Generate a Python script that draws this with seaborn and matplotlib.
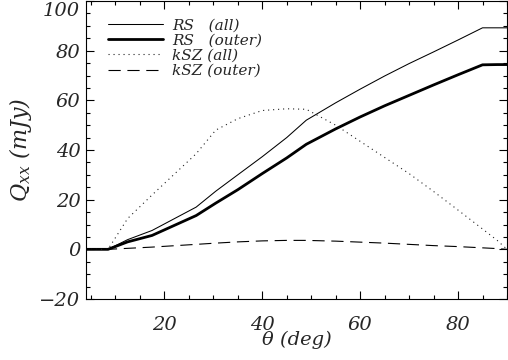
import matplotlib
matplotlib.use("Agg")
import matplotlib.pyplot as plt
import matplotlib.transforms as mtransforms
from matplotlib.ticker import MultipleLocator, FuncFormatter
import seaborn as sns

# viewing angle (deg) and Q_xx (mJy)
theta = [4, 8.5, 12.5, 17.5, 26.5, 30.5, 35, 40, 45, 49, 55, 60, 65, 70, 75, 80, 85, 88, 90]
rs_all = [0, 0, 3.9, 7.6, 17.0, 23.4, 30.0, 37.3, 45.0, 52.0, 59.0, 64.5, 69.8, 74.8, 79.5, 84.3, 89.2, 89.2, 89.2]
rs_outer = [0, 0, 3.0, 5.6, 13.6, 18.6, 24.0, 30.5, 36.8, 42.3, 48.5, 53.3, 57.8, 62.0, 66.2, 70.3, 74.3, 74.4, 74.4]
ksz_all = [0, 0, 12.4, 21.9, 38.5, 48.0, 52.6, 55.9, 56.6, 56.4, 50.0, 43.5, 37.0, 30.5, 23.3, 15.8, 8.2, 3.6, 0]
ksz_outer = [0, 0, 0.4, 0.9, 2.0, 2.5, 3.0, 3.4, 3.6, 3.6, 3.3, 2.9, 2.5, 2.0, 1.5, 1.1, 0.6, 0.3, 0]

labels = ["RS   (all)", "RS   (outer)", "kSZ (all)", "kSZ (outer)"]

sns.set_style("ticks")
plt.rcParams["font.family"] = ["DejaVu Serif"]
plt.rcParams["font.style"] = "italic"
plt.rcParams["mathtext.fontset"] = "custom"
plt.rcParams["mathtext.it"] = "DejaVu Serif:italic"
plt.rcParams["mathtext.rm"] = "DejaVu Serif:italic"

fig = plt.figure(figsize=(5.08, 3.6), dpi=100)
ax = fig.add_axes([86 / 508, 1 - 299 / 360, 421 / 508, 298 / 360])

sns.lineplot(x=theta, y=rs_all, ax=ax, color="black", lw=0.75, label=labels[0])
sns.lineplot(x=theta, y=rs_outer, ax=ax, color="black", lw=2.0, label=labels[1])
sns.lineplot(x=theta, y=ksz_all, ax=ax, color="#222222", lw=0.8, label=labels[2],
             linestyle=(0, (1, 3.5)))
sns.lineplot(x=theta, y=ksz_outer, ax=ax, color="black", lw=0.8, label=labels[3],
             linestyle=(0, (11, 6)))

ax.set_xlim(4, 90)
ax.set_ylim(-20, 100)
ax.xaxis.set_major_locator(MultipleLocator(20))
ax.xaxis.set_minor_locator(MultipleLocator(5))
ax.yaxis.set_major_locator(MultipleLocator(20))
ax.yaxis.set_minor_locator(MultipleLocator(5))
ax.yaxis.set_major_formatter(FuncFormatter(lambda v, p: "" if v >= 100 else f"{v:.0f}".replace("-", "\u2212")))

ax.tick_params(which="both", direction="in", top=True, right=True, width=0.8, color="black")
ax.tick_params(which="major", length=5.5)
ax.tick_params(which="minor", length=3)
ax.tick_params(axis="x", which="major", pad=12, labelsize=14)
ax.tick_params(axis="y", which="major", pad=4, labelsize=14)

# top tick label sits inside the frame in the original
off = mtransforms.offset_copy(ax.get_yaxis_transform(), fig=fig, x=-6, y=-1, units="dots")
ax.text(0, 100, "100", transform=off, ha="right", va="top", fontsize=14)

for s in ax.spines.values():
    s.set_linewidth(0.8)
    s.set_color("black")

ax.set_xlabel("θ (deg)", fontsize=14, labelpad=-2)
ax.set_ylabel("$Q_{xx}$ (mJy)", fontsize=16, labelpad=4)

ax.legend(loc="upper left", bbox_to_anchor=(0.052, 0.942), frameon=False, fontsize=11,
          handlelength=3.6, handletextpad=0.6, labelspacing=0.08, borderpad=0, borderaxespad=0)

fig.savefig("out.png", dpi=100)
